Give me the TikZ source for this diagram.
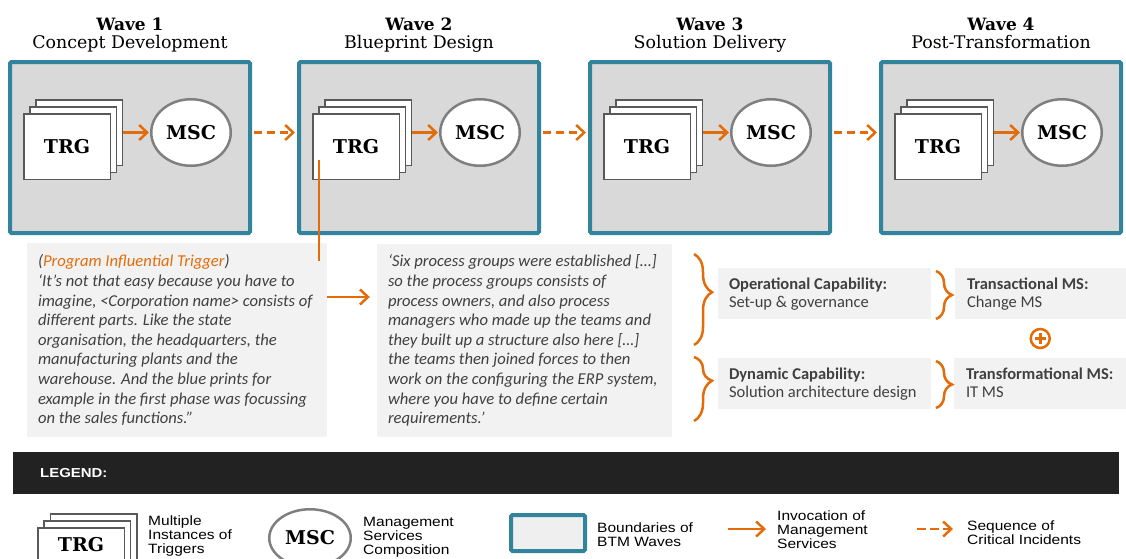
\documentclass[tikz,border=0pt]{standalone}
\usepackage{fontspec}
\setmainfont{Carlito}
\newfontfamily\slabfont{DejaVu Serif}
\newfontfamily\legendfont[FakeStretch=1.15]{Liberation Sans}
\usetikzlibrary{arrows.meta,decorations.pathreplacing,calc,shapes.geometric}

\definecolor{waveteal}{HTML}{31849B}
\definecolor{wavefill}{HTML}{D9D9D9}
\definecolor{accent}{HTML}{E36C0A}
\definecolor{quotefill}{HTML}{F2F2F2}
\definecolor{inktext}{HTML}{404040}
\definecolor{cardline}{HTML}{595959}
\definecolor{ovalline}{HTML}{7F7F7F}
\definecolor{legendbar}{HTML}{222222}
\definecolor{legendbox}{HTML}{EFEFEF}

% several lines of text whose baseline is the first line
\newcommand{\linesof}[1]{\begin{tabular}[t]{@{}l@{}}#1\end{tabular}}

\tikzset{
  wavebox/.style={draw=waveteal, line width=4pt, fill=wavefill, rounded corners=1.5pt,
    inner sep=0pt, minimum width=240pt, minimum height=171pt},
  card/.style={draw=cardline, line width=1.5pt, fill=white, inner sep=0pt,
    minimum width=86.5pt, minimum height=65.5pt},
  trgtext/.style={font=\slabfont\bfseries\fontsize{19}{20}\selectfont, inner sep=0pt},
  msc/.style={ellipse, draw=ovalline, line width=2.5pt, fill=white, inner sep=0pt,
    minimum width=79.5pt, minimum height=66.5pt,
    font=\slabfont\bfseries\fontsize{19}{20}\selectfont},
  wavetitle/.style={font=\slabfont\bfseries\fontsize{17}{18}\selectfont, anchor=base, inner sep=0pt},
  wavename/.style={font=\slabfont\fontsize{17.4}{18}\selectfont, anchor=base, inner sep=0pt},
  invoke/.style={draw=accent, line width=2.5pt,
    -{Straight Barb[length=8pt, width=15pt, line width=2.5pt]}},
  sequence/.style={invoke, dash pattern=on 8pt off 5pt},
  trigline/.style={draw=accent, line width=2.5pt},
  quotebox/.style={fill=quotefill, inner sep=0pt},
  quotetext/.style={font=\itshape\fontsize{16.6}{19.6}\selectfont, text=inktext,
    inner sep=0pt, anchor=base west},
  capbox/.style={fill=quotefill, inner sep=0pt, minimum height=51pt},
  captext/.style={font=\fontsize{16.5}{18}\selectfont, text=inktext, inner sep=0pt, anchor=base west},
  capbrace/.style={draw=accent, line width=2.5pt, decorate},
  legendtext/.style={font=\legendfont\fontsize{13.5}{14}\selectfont, inner sep=0pt, anchor=base west},
}

\begin{document}
\begin{tikzpicture}[x=1pt,y=-1pt]
\useasboundingbox (0,0) rectangle (1126,558);
\fill[white] (0,0) rectangle (1126,558);

% the four waves
\foreach \i/\L/\phase in {1/8/Concept Development,2/297/Blueprint Design,
                          3/588/Solution Delivery,4/879/Post-Transformation}{
  \node[wavetitle] (t\i) at (\L+122,30) {Wave \i};
  \node[wavename] (n\i) at (\L+122,48) {\phase};
  \node[wavebox] (w\i) at (\L+122,147.5) {};
  \node[card] (b\i) at (\L+71,132.5) {};
  \node[card] (c\i) at (\L+65,139.5) {};
  \node[card, trgtext] (f\i) at (\L+59,146.5) {TRG};
  \node[msc] (m\i) at (\L+183,132.5) {MSC};
  \draw[invoke, shorten >=1pt] (b\i.east) -- (m\i.west);
}

% sequence of critical incidents
\foreach \i/\j in {1/2,2/3,3/4}{
  \draw[sequence, shorten <=2pt, shorten >=2pt] (w\i.east |- m\i.west) -- (w\j.west |- m\i.west);
}

% quotes
\node[quotebox, minimum width=300pt, minimum height=194pt] (q1) at (177,340) {};
\node[quotebox, minimum width=295pt, minimum height=193pt] (q2) at (524.5,340.5) {};

\coordinate (tapA) at ($(f2.south west)+(7,-20)$);
\coordinate (tapB) at ($(tapA |- q1.north)+(0,18)$);
\draw[trigline] (tapA) -- (tapB);

\node[quotetext] (q1t) at ($(q1.north west)+(11,24)$) {\linesof{%
(\textcolor{accent}{Program Influential Trigger})\\
‘It’s not that easy because you have to\\
imagine, <Corporation name> consists of\\
different parts. Like the state\\
organisation, the headquarters, the\\
manufacturing plants and the\\
warehouse. And the blue prints for\\
example in the first phase was focussing\\
on the sales functions.”}};

\node[quotetext] (q2t) at ($(q2.north west)+(11,23)$) {\linesof{%
‘Six process groups were established […]\\
so the process groups consists of\\
process owners, and also process\\
managers who made up the teams and\\
they built up a structure also here […]\\
the teams then joined forces to then\\
work on the configuring the ERP system,\\
where you have to define certain\\
requirements.’}};

\coordinate (qa) at (0,297);
\draw[invoke, shorten >=7pt] (q1.east |- qa) -- (q2.west |- qa);

% capabilities and management services
\node[capbox, minimum width=213pt] (op) at (824.5,293.5) {};
\node[capbox, minimum width=213pt] (dy) at (824.5,383.5) {};
\node[capbox, minimum width=171pt] (tr) at (1040.5,293.5) {};
\node[capbox, minimum width=172pt] (tf) at (1040,383.5) {};

\node[captext] (opt) at ($(op.north west)+(11,22)$) {\linesof{\textbf{Operational Capability:}\\Set-up \& governance}};
\node[captext] (dyt) at ($(dy.north west)+(11,22)$) {\linesof{\textbf{Dynamic Capability:}\\Solution architecture design}};
\node[captext] (trt) at ($(tr.north west)+(12,22)$) {\linesof{\textbf{Transactional MS:}\\Change MS}};
\node[captext] (tft) at ($(tf.north west)+(12,22)$) {\linesof{\textbf{Transformational MS:}\\IT MS}};

\draw[capbrace, decoration={brace, amplitude=18pt, aspect=0.42}] (694,254) -- (694,345);
\draw[capbrace, decoration={brace, amplitude=18pt, aspect=0.37}] (694,357) -- (694,421);
\draw[capbrace, decoration={brace, amplitude=16pt}] (936,271) -- (936,319);
\draw[capbrace, decoration={brace, amplitude=16pt}] (936,361) -- (936,408);

\node[circle, draw=accent, line width=2.5pt, minimum size=19pt, inner sep=0pt] (plus)
  at ($(tr.south)!0.5!(tf.north)$) {};
\draw[accent, line width=2.5pt] ($(plus.center)+(-5.5,0)$) -- ($(plus.center)+(5.5,0)$);
\draw[accent, line width=2.5pt] ($(plus.center)+(0,-5.5)$) -- ($(plus.center)+(0,5.5)$);

% legend
\node[fill=legendbar, inner sep=0pt, minimum width=1106pt, minimum height=42pt] (legend) at (566,473) {};
\node[font=\legendfont\bfseries\fontsize{13}{14}\selectfont, text=white, inner sep=0pt, anchor=west]
  (legendt) at (40,473) {LEGEND:};

\node[card] (lb) at (93.5,546.5) {};
\node[card] (lc) at (87,553.5) {};
\node[card] (lf) at (81,560.5) {};
\node[trgtext] (lft) at (81,545) {TRG};
\node[legendtext] (l1) at (148,525) {\linesof{Multiple\\Instances of\\Triggers}};

\node[msc, minimum width=81.5pt, minimum height=57.5pt] (lm) at (310,538) {MSC};
\node[legendtext] (l2) at (363,526) {\linesof{Management\\Services\\Composition}};

\node[draw=waveteal, line width=4pt, fill=legendbox, rounded corners=1.5pt, inner sep=0pt,
  minimum width=74pt, minimum height=36pt] (lw) at (548,533) {};
\node[legendtext] (l3) at (597,532) {\linesof{Boundaries of\\BTM Waves}};

\coordinate (la) at (728,529);
\coordinate (lb2) at (766,529);
\draw[invoke] (la) -- (lb2);
\node[legendtext] (l4) at (777,520) {\linesof{Invocation of\\Management\\Services}};

\coordinate (ls) at (917,529);
\coordinate (le) at (953,529);
\draw[sequence, dash pattern=on 9pt off 4pt] (ls) -- (le);
\node[legendtext] (l5) at (967,530) {\linesof{Sequence of\\Critical Incidents}};

\end{tikzpicture}
\end{document}
